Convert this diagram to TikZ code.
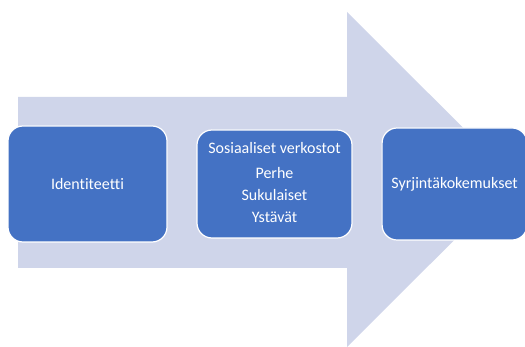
\documentclass[tikz,border=0pt]{standalone}
\usepackage{fontspec}
\setmainfont{Carlito}[Ligatures=NoCommon]
\definecolor{arrowfill}{HTML}{CFD5EA}
\definecolor{boxfill}{HTML}{4472C4}
\begin{document}
\begin{tikzpicture}[x=1pt,y=-1pt,
  blockbox/.style={draw=white, line width=1.2pt, fill=boxfill, rounded corners=15pt, text=white, font=\fontsize{16}{22}\selectfont, align=center, inner sep=0pt},
  linetext/.style={text=white, font=\fontsize{16}{19}\selectfont, inner sep=0pt}]
\useasboundingbox (0,0) rectangle (525,347);
\fill[arrowfill] (18,97) -- (347,97) -- (347,12) -- (515,179.5) -- (347,347) -- (347,268) -- (18,268) -- cycle;
\node[blockbox, minimum width=159pt, minimum height=116pt] (b1) at (87.5,184) {Identiteetti};
\node[blockbox, minimum width=155pt, minimum height=108pt] (b2) at (274.5,184) {};
\node[blockbox, minimum width=145pt, minimum height=112pt, anchor=west] (b3) at (381.5,184) {Syrjintäkokemukset};
\node[linetext] (t1) at (274.5,148.5) {Sosiaaliset verkostot};
\node[linetext] (t2) at (274.5,173) {Perhe};
\node[linetext] (t3) at (274.5,195.5) {Sukulaiset};
\node[linetext] (t4) at (274.5,217.5) {Ystävät};
\end{tikzpicture}
\end{document}
